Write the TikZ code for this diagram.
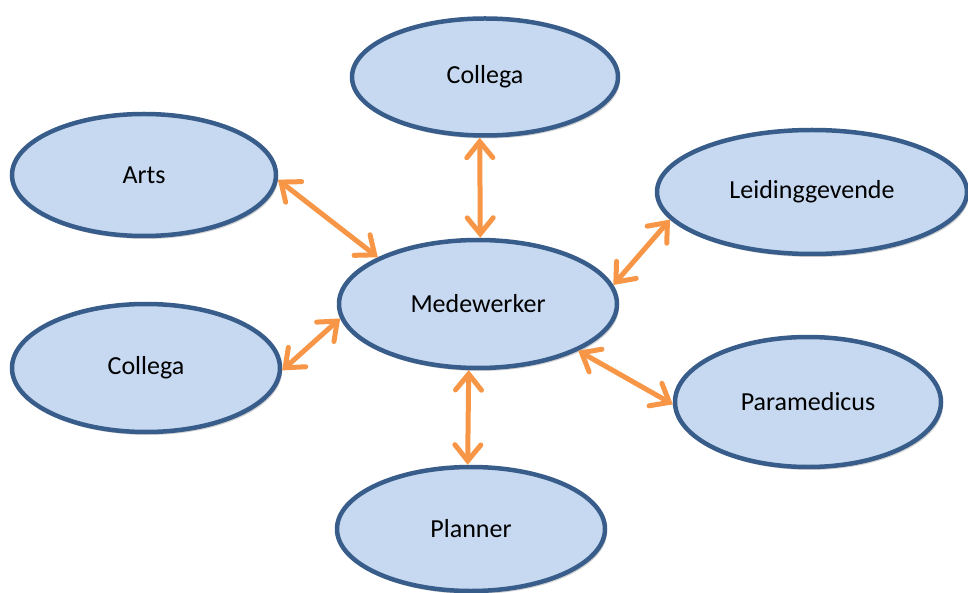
\documentclass[tikz,border=0pt]{standalone}
\usepackage{fontspec}
\setmainfont{Carlito}
\usetikzlibrary{shapes.geometric,arrows.meta,shadows}
\definecolor{bubblefill}{HTML}{C6D9F1}
\definecolor{bubbleline}{HTML}{385D8A}
\definecolor{linkorange}{HTML}{F79646}

\begin{document}
\begin{tikzpicture}[x=1pt, y=-1pt,
    bubble/.style={ellipse, draw=bubbleline, fill=bubblefill, line width=4.5pt,
      inner sep=0pt, font=\fontsize{26}{31}\selectfont,
      drop shadow={shadow xshift=2pt, shadow yshift=-3pt, opacity=.3, fill=black!60}},
    link/.style={draw=linkorange, line width=5pt, line cap=round,
      {Straight Barb[length=16pt,width=26pt,line cap=round]}-{Straight Barb[length=16pt,width=26pt,line cap=round]}}]
    \useasboundingbox (0,0) rectangle (968,593);
    \node[bubble, minimum width=278pt, minimum height=128pt] at (478,304) (med)    {Medewerker};
    \node[bubble, minimum width=266pt, minimum height=117pt] at (485,77)  (coltop) {Collega};
    \node[bubble, minimum width=264pt, minimum height=122pt] at (144,175) (arts)   {Arts};
    \node[bubble, minimum width=310pt, minimum height=124pt] at (812,192) (leid)   {Leidinggevende};
    \node[bubble, minimum width=268pt, minimum height=128pt] at (146,368) (colleft){Collega};
    \node[bubble, minimum width=266pt, minimum height=130pt] at (808,402) (para)   {Paramedicus};
    \node[bubble, minimum width=268pt, minimum height=124pt] at (471,529) (plan)   {Planner};
    % two-way links to the centre
    \draw[link] (coltop.-95) -- (med.88);
    \draw[link] (arts.-2)    -- (med.155);
    \draw[link] (leid.-169)  -- (med.8);
    \draw[link] (colleft.-1) -- (med.-174);
    \draw[link] (para.181)   -- (med.-25);
    \draw[link] (plan.93)    -- (med.-98);
\end{tikzpicture}
\end{document}
